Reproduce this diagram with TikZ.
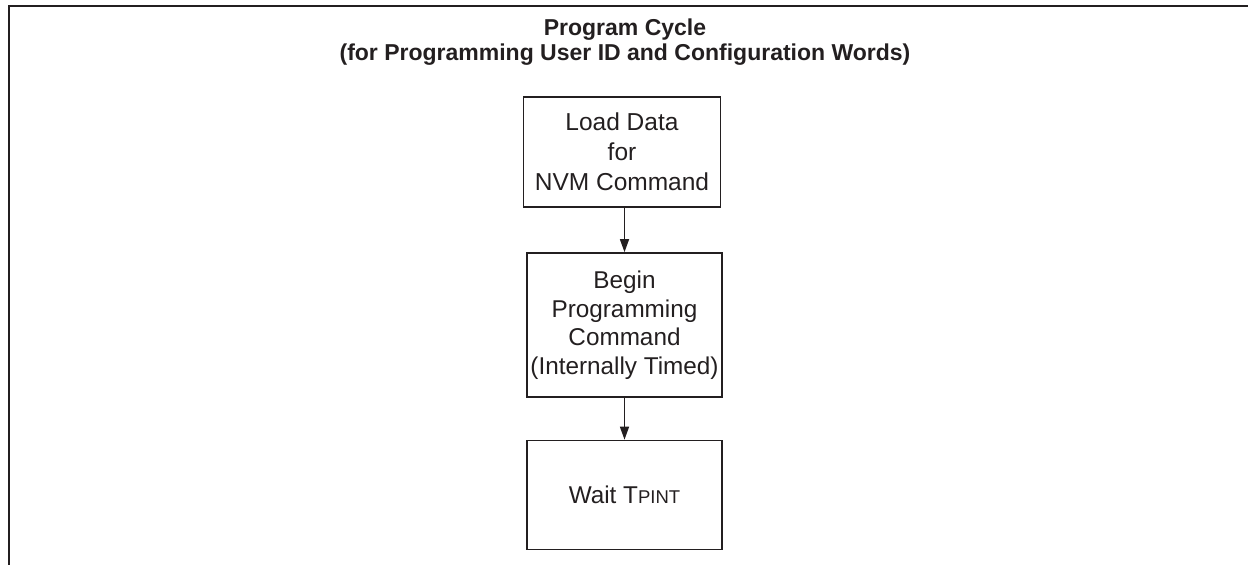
\documentclass[tikz,border=0pt]{standalone}
\usepackage{fontspec}
\setmainfont{Liberation Sans}
\usetikzlibrary{arrows.meta}
\definecolor{ink}{HTML}{231F20}
\tikzset{
  stepbox/.style={draw=ink, line width=1.7pt, minimum width=195pt, align=center, inner sep=0pt,
    font=\fontsize{24.3}{28.5}\selectfont, text=ink},
  flow/.style={draw=ink, line width=1.5pt, -{Triangle[length=13pt,width=9pt]}},
  titletext/.style={font=\bfseries\fontsize{23}{25}\selectfont, text=ink, anchor=base, inner sep=0pt}
}
\begin{document}
\begin{tikzpicture}[x=1pt,y=-1pt]
\useasboundingbox (0,0) rectangle (1248,565);
\draw[ink, line width=1.8pt] (9,565) -- (9,6) -- (1248,6);
\node[titletext] (title1) at (625,35) {Program Cycle};
\node[titletext] (title2) at (625,60) {(for Programming User ID and Configuration Words)};
\node[stepbox, minimum width=197pt, minimum height=110pt, font=\fontsize{24.5}{30}\selectfont] (b1) at (622,152) {Load Data\\for\\NVM Command};
\node[stepbox, minimum height=144pt] (b2) at (624.5,325) {Begin\\Programming\\Command\\(Internally Timed)};
\node[stepbox, minimum height=109pt] (b3) at (624.5,495) {Wait T{\fontsize{18.5}{18.5}\selectfont PINT}};
\draw[flow] (b1.south -| b2.north) -- (b2.north);
\draw[flow] (b2.south) -- (b3.north);
\end{tikzpicture}
\end{document}
